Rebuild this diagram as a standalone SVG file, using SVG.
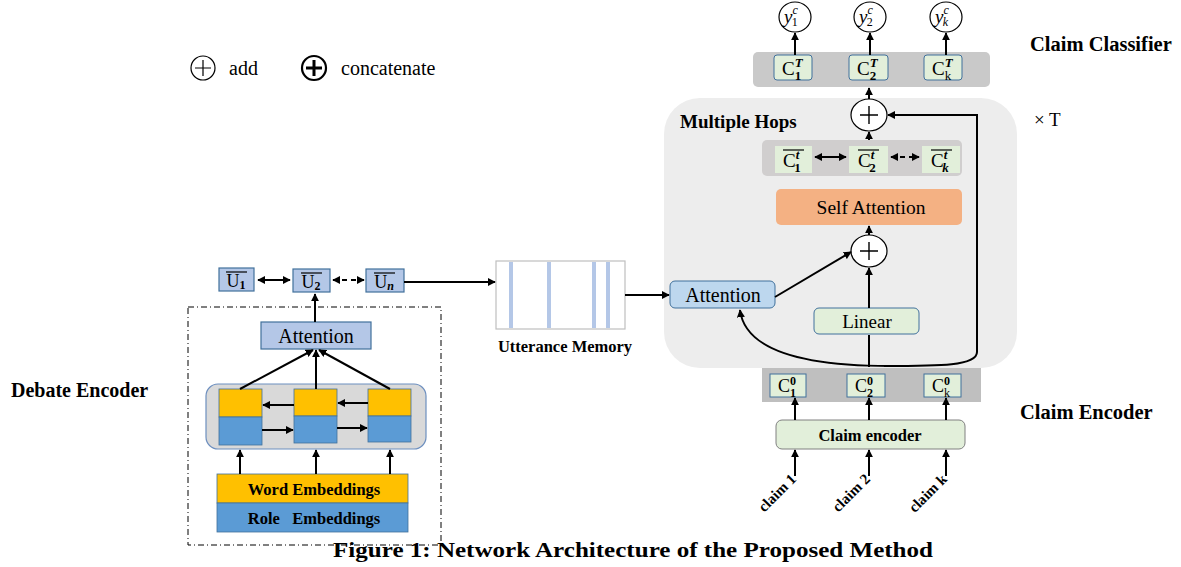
<svg xmlns="http://www.w3.org/2000/svg" width="1181" height="567" viewBox="0 0 1181 567">
<defs>
<marker id="ah" viewBox="0 0 10 10" refX="9" refY="5" markerWidth="8" markerHeight="8" markerUnits="userSpaceOnUse" orient="auto-start-reverse"><path d="M0,0 L10,5 L0,10 z" fill="#000"/></marker>
</defs>
<style>
.t{font-family:"Liberation Serif",serif;fill:#000}
.b{font-weight:bold}
.c{stroke:#000;stroke-width:2;fill:none}
.cd{stroke:#000;stroke-width:2;fill:none;stroke-dasharray:5,4}
.ub{fill:#b4c7e7;stroke:#41719c;stroke-width:1.2}
.gb{fill:#e2efda;stroke:#41719c;stroke-width:1}
.ol{stroke:#000;stroke-width:1.2}
</style>
<rect width="1181" height="567" fill="#fff"/>

<!-- legend -->
<g id="legend">
<circle cx="203" cy="68" r="12" fill="#fff" stroke="#000" stroke-width="1.2"/>
<path d="M195 68 H211 M203 60 V76" stroke="#000" stroke-width="1.2"/>
<text class="t" x="229" y="75" font-size="20">add</text>
<circle cx="314" cy="68" r="12" fill="#fff" stroke="#000" stroke-width="2.2"/>
<path d="M306 68 H322 M314 60 V76" stroke="#000" stroke-width="3"/>
<text class="t" x="341" y="75" font-size="20">concatenate</text>
</g>

<!-- big containers -->
<g id="multiple-hops">
<rect x="664" y="98" width="353" height="270" rx="36" fill="#ededed"/>
<text class="t b" x="680" y="128" font-size="19">Multiple Hops</text>
</g>
<g id="debate-encoder">
<rect x="188" y="307" width="253" height="238" fill="none" stroke="#000" stroke-width="1" stroke-dasharray="6,3,1,3"/>
<text class="t b" x="11" y="397" font-size="20">Debate Encoder</text>
</g>

<!-- utterance vectors -->
<g id="u1"><rect class="ub" x="219" y="268" width="35" height="23"/><text class="t" x="236" y="287" font-size="18" text-anchor="middle">U<tspan font-weight="bold" font-size="12" dy="2">1</tspan></text><line class="ol" x1="226" y1="272" x2="247" y2="272"/></g>
<g id="u2"><rect class="ub" x="293" y="269" width="37" height="23"/><text class="t" x="311" y="288" font-size="18" text-anchor="middle">U<tspan font-weight="bold" font-size="12" dy="2">2</tspan></text><line class="ol" x1="301" y1="273" x2="322" y2="273"/></g>
<g id="un"><rect class="ub" x="366" y="269" width="38" height="23"/><text class="t" x="384" y="288" font-size="18" text-anchor="middle">U<tspan font-weight="bold" font-style="italic" font-size="12" dy="2">n</tspan></text><line class="ol" x1="374" y1="273" x2="395" y2="273"/></g>

<g id="attention-left"><rect class="ub" x="261" y="322" width="110" height="27"/><text class="t" x="316" y="343" font-size="20" text-anchor="middle">Attention</text></g>

<g id="bilstm">
<rect x="206" y="384" width="220" height="65" rx="12" fill="#d9d9d9" stroke="#6d8fbf" stroke-width="1.2"/>
<rect x="219" y="389" width="43" height="28" fill="#ffc000" stroke="#41719c" stroke-width="0.8"/>
<rect x="219" y="417" width="43" height="28" fill="#5b9bd5" stroke="#41719c" stroke-width="0.8"/>
<rect x="294" y="389" width="43" height="27" fill="#ffc000" stroke="#41719c" stroke-width="0.8"/>
<rect x="294" y="416" width="43" height="27" fill="#5b9bd5" stroke="#41719c" stroke-width="0.8"/>
<rect x="368" y="389" width="43" height="27" fill="#ffc000" stroke="#41719c" stroke-width="0.8"/>
<rect x="368" y="416" width="43" height="26" fill="#5b9bd5" stroke="#41719c" stroke-width="0.8"/>
</g>

<g id="embeddings">
<rect x="217" y="474" width="191" height="29" fill="#ffc000" stroke="#41719c" stroke-width="0.8"/>
<rect x="217" y="503" width="191" height="29" fill="#5b9bd5" stroke="#41719c" stroke-width="0.8"/>
<text class="t b" x="314" y="495" font-size="16.5" text-anchor="middle">Word Embeddings</text>
<text class="t b" x="314" y="524" font-size="16.5" text-anchor="middle" xml:space="preserve">Role   Embeddings</text>
</g>

<g id="utterance-memory">
<rect x="496" y="261" width="129" height="68" fill="#fff" stroke="#bfbfbf" stroke-width="1.2"/>
<rect x="509" y="262" width="4" height="66" fill="#b4c7e7"/>
<rect x="547" y="262" width="4" height="66" fill="#b4c7e7"/>
<rect x="592" y="262" width="4" height="66" fill="#b4c7e7"/>
<rect x="606" y="262" width="4" height="66" fill="#b4c7e7"/>
<text class="t b" x="565" y="352" font-size="16.5" text-anchor="middle">Utterance Memory</text>
</g>

<g id="attention-right"><rect x="670" y="281" width="105" height="27" rx="5" fill="#bdd7ee" stroke="#41719c" stroke-width="1"/><text class="t" x="723" y="302" font-size="20" text-anchor="middle">Attention</text></g>
<g id="linear"><rect x="814" y="308" width="105" height="26" rx="5" fill="#e2efda" stroke="#41719c" stroke-width="1"/><text class="t" x="867" y="328" font-size="19" text-anchor="middle">Linear</text></g>
<g id="add-low"><ellipse cx="869" cy="251" rx="18" ry="16" fill="#fff" stroke="#000" stroke-width="1.2"/><path d="M860 251 H878 M869 242 V260" stroke="#000" stroke-width="1.4"/></g>
<g id="self-attention"><rect x="776" y="189" width="186" height="36" rx="5" fill="#f4b183"/><text class="t" x="871" y="214" font-size="19.5" text-anchor="middle">Self Attention</text></g>

<g id="ct-row">
<rect x="762" y="140" width="200" height="36" rx="5" fill="#d0cece"/>
<rect x="775" y="146" width="37" height="27" fill="#e2efda"/>
<rect x="849" y="146" width="39" height="27" fill="#e2efda"/>
<rect x="922" y="146" width="38" height="27" fill="#e2efda"/>
<text class="t" x="783" y="167" font-size="19">C<tspan font-weight="bold" font-style="italic" font-size="13" dy="-8">t</tspan><tspan font-weight="bold" font-size="13" dx="-5" dy="13">1</tspan></text>
<line class="ol" x1="783" y1="150" x2="804" y2="150"/>
<text class="t" x="858" y="167" font-size="19">C<tspan font-weight="bold" font-style="italic" font-size="13" dy="-8">t</tspan><tspan font-weight="bold" font-size="13" dx="-5" dy="13">2</tspan></text>
<line class="ol" x1="858" y1="150" x2="879" y2="150"/>
<text class="t" x="931" y="167" font-size="19">C<tspan font-weight="bold" font-style="italic" font-size="13" dy="-8">t</tspan><tspan font-weight="bold" font-style="italic" font-size="13" dx="-5" dy="13">k</tspan></text>
<line class="ol" x1="931" y1="150" x2="952" y2="150"/>
</g>

<g id="add-top"><ellipse cx="869" cy="115" rx="18" ry="16" fill="#fff" stroke="#000" stroke-width="1.2"/><path d="M860 115 H878 M869 106 V124" stroke="#000" stroke-width="1.4"/></g>

<g id="claim-classifier">
<rect x="753" y="52" width="237" height="35" rx="5" fill="#c9c9c9"/>
<rect class="gb" x="774" y="55" width="38" height="25" rx="3"/>
<rect class="gb" x="849" y="55" width="39" height="25" rx="3"/>
<rect class="gb" x="924" y="55" width="38" height="25" rx="3"/>
<text class="t" x="782" y="75" font-size="19">C<tspan font-weight="bold" font-style="italic" font-size="13" dy="-8">T</tspan><tspan font-weight="bold" font-size="13" dx="-8" dy="13">1</tspan></text>
<text class="t" x="857" y="75" font-size="19">C<tspan font-weight="bold" font-style="italic" font-size="13" dy="-8">T</tspan><tspan font-weight="bold" font-size="13" dx="-8" dy="13">2</tspan></text>
<text class="t" x="932" y="75" font-size="19">C<tspan font-weight="bold" font-style="italic" font-size="13" dy="-8">T</tspan><tspan font-size="13" dx="-8" dy="13">k</tspan></text>
<text class="t b" x="1030" y="51" font-size="20.5">Claim Classifier</text>
</g>

<g id="y1"><ellipse cx="795" cy="17" rx="16" ry="15" fill="#fff" stroke="#000" stroke-width="1.2"/><text class="t" x="784" y="23" font-size="19" font-style="italic">y<tspan font-size="12" dy="-9">c</tspan><tspan font-size="12" font-style="normal" dx="-6" dy="12">1</tspan></text></g>
<g id="y2"><ellipse cx="870" cy="17" rx="16" ry="15" fill="#fff" stroke="#000" stroke-width="1.2"/><text class="t" x="859" y="23" font-size="19" font-style="italic">y<tspan font-size="12" dy="-9">c</tspan><tspan font-size="12" font-style="normal" dx="-6" dy="12">2</tspan></text></g>
<g id="yk"><ellipse cx="946" cy="17" rx="16" ry="15" fill="#fff" stroke="#000" stroke-width="1.2"/><text class="t" x="935" y="23" font-size="19" font-style="italic">y<tspan font-size="12" dy="-9">c</tspan><tspan font-size="12" dx="-6" dy="12">k</tspan></text></g>

<g id="times-t"><text class="t" x="1034" y="126" font-size="19">× T</text></g>

<g id="c0-row">
<rect x="762" y="368" width="219" height="34" fill="#bfbfbf"/>
<rect class="gb" x="770" y="374" width="36" height="23"/>
<rect class="gb" x="847" y="374" width="38" height="23"/>
<rect class="gb" x="924" y="374" width="37" height="23"/>
<text class="t" x="778" y="392" font-size="18">C<tspan font-weight="bold" font-size="12" dy="-7">0</tspan><tspan font-weight="bold" font-size="12" dx="-6" dy="12">1</tspan></text>
<text class="t" x="855" y="392" font-size="18">C<tspan font-weight="bold" font-size="12" dy="-7">0</tspan><tspan font-weight="bold" font-size="12" dx="-6" dy="12">2</tspan></text>
<text class="t" x="932" y="392" font-size="18">C<tspan font-weight="bold" font-size="12" dy="-7">0</tspan><tspan font-size="12" dx="-6" dy="12">k</tspan></text>
</g>

<g id="claim-encoder">
<rect x="776" y="420" width="189" height="29" rx="6" fill="#e2efda" stroke="#808080" stroke-width="1"/>
<text class="t b" x="870" y="441" font-size="16.5" text-anchor="middle">Claim encoder</text>
<text class="b t" font-size="15" text-anchor="end" transform="translate(797,480) rotate(-45)">claim 1</text>
<text class="b t" font-size="15" text-anchor="end" transform="translate(871,480) rotate(-45)">claim 2</text>
<text class="b t" font-size="15" text-anchor="end" transform="translate(948,480) rotate(-45)">claim k</text>
<text class="t b" x="1020" y="419" font-size="20.5">Claim Encoder</text>
</g>

<g id="caption"><text class="t b" x="333" y="557" font-size="21" textLength="600" lengthAdjust="spacingAndGlyphs">Figure 1: Network Architecture of the Proposed Method</text></g>

<g id="connectors">
<line class="c" x1="258" y1="280" x2="290" y2="280" marker-start="url(#ah)" marker-end="url(#ah)"/>
<line class="cd" x1="333" y1="280" x2="364" y2="280" marker-start="url(#ah)" marker-end="url(#ah)"/>
<line class="c" x1="404" y1="282" x2="495" y2="282" marker-end="url(#ah)"/>
<line class="c" x1="315" y1="322" x2="315" y2="294" marker-end="url(#ah)"/>
<line class="c" x1="240" y1="389" x2="313" y2="350" marker-end="url(#ah)"/>
<line class="c" x1="316" y1="389" x2="316" y2="350" marker-end="url(#ah)"/>
<line class="c" x1="390" y1="389" x2="319" y2="350" marker-end="url(#ah)"/>
<line class="c" x1="294" y1="405" x2="263" y2="405" marker-end="url(#ah)"/>
<line class="c" x1="368" y1="403" x2="338" y2="403" marker-end="url(#ah)"/>
<line class="c" x1="262" y1="430" x2="293" y2="430" marker-end="url(#ah)"/>
<line class="c" x1="337" y1="428" x2="367" y2="428" marker-end="url(#ah)"/>
<line class="c" x1="240" y1="474" x2="240" y2="450" marker-end="url(#ah)"/>
<line class="c" x1="316" y1="474" x2="316" y2="450" marker-end="url(#ah)"/>
<line class="c" x1="390" y1="474" x2="390" y2="450" marker-end="url(#ah)"/>
<line class="c" x1="625" y1="295" x2="669" y2="295" marker-end="url(#ah)"/>
<line class="c" x1="775" y1="297" x2="851" y2="252" marker-end="url(#ah)"/>
<line class="c" x1="869" y1="367" x2="869" y2="335"/>
<line class="c" x1="869" y1="308" x2="869" y2="268" marker-end="url(#ah)"/>
<path class="c" d="M890 366 C 800 366, 745 350, 740 310" marker-end="url(#ah)"/>
<path class="c" d="M884 366 C 940 366, 977 366, 977 352 L 977 115 L 888 115" marker-end="url(#ah)"/>
<line class="c" x1="869" y1="235" x2="869" y2="226" marker-end="url(#ah)"/>
<line class="c" x1="815" y1="157" x2="846" y2="157" marker-start="url(#ah)" marker-end="url(#ah)"/>
<line class="cd" x1="891" y1="157" x2="919" y2="157" marker-start="url(#ah)" marker-end="url(#ah)"/>
<line class="c" x1="869" y1="140" x2="869" y2="132" marker-end="url(#ah)"/>
<line class="c" x1="869" y1="99" x2="869" y2="88" marker-end="url(#ah)"/>
<line class="c" x1="795" y1="55" x2="795" y2="33" marker-end="url(#ah)"/>
<line class="c" x1="870" y1="55" x2="870" y2="33" marker-end="url(#ah)"/>
<line class="c" x1="946" y1="55" x2="946" y2="33" marker-end="url(#ah)"/>
<line class="c" x1="795" y1="420" x2="795" y2="398" marker-end="url(#ah)"/>
<line class="c" x1="869" y1="420" x2="869" y2="398" marker-end="url(#ah)"/>
<line class="c" x1="946" y1="420" x2="946" y2="398" marker-end="url(#ah)"/>
<line class="c" x1="795" y1="476" x2="795" y2="450" marker-end="url(#ah)"/>
<line class="c" x1="869" y1="476" x2="869" y2="450" marker-end="url(#ah)"/>
<line class="c" x1="946" y1="476" x2="946" y2="450" marker-end="url(#ah)"/>
</g>
</svg>
